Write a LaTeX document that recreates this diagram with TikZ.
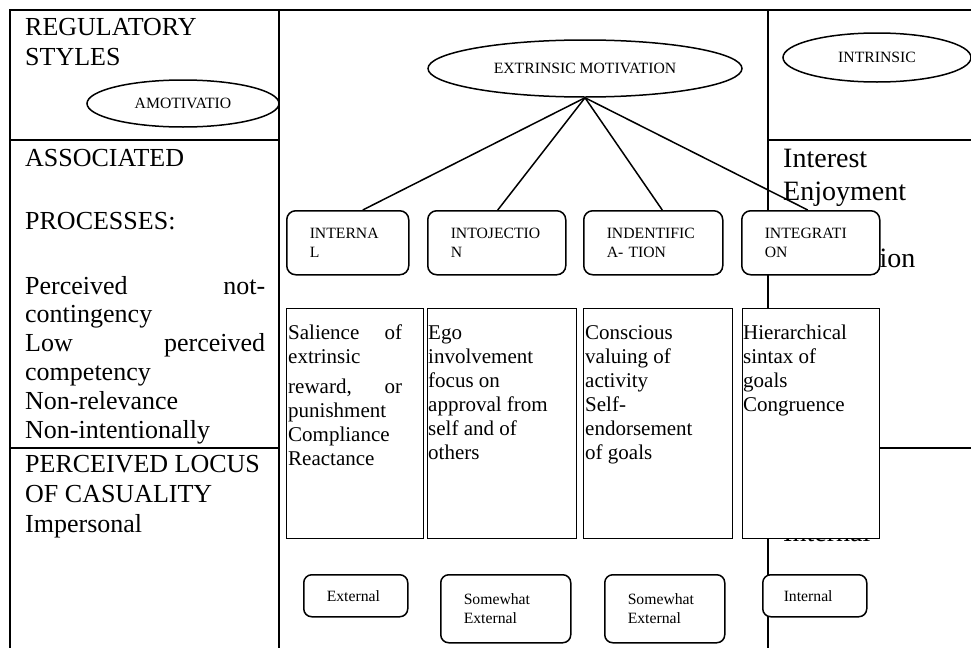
\documentclass[tikz,border=0pt]{standalone}
\usepackage{fontspec}
\setmainfont{Liberation Serif}
\usetikzlibrary{shapes.geometric}
\newcommand\stk[2]{\vtop{\baselineskip=#1\lineskiplimit=-1000pt\lineskip=0pt\relax #2}}
\newcommand\jus[3]{\hbox to #1{#2\hfill #3}}
\tikzset{
  tbl/.style={line width=1.8pt},
  conn/.style={line width=1.5pt},
  bigl/.style={font=\fontsize{26}{30}\selectfont, inner sep=0pt, anchor=base west},
  bigr/.style={font=\fontsize{28}{33}\selectfont, inner sep=0pt, anchor=base west},
  midt/.style={font=\fontsize{21}{24}\selectfont, inner sep=0pt, anchor=base west},
  oval/.style={ellipse, draw, line width=1.5pt, fill=white, inner sep=0pt, font=\fontsize{15.7}{19}\selectfont},
  rbox/.style={draw, rounded corners=9pt, line width=1.5pt, fill=white, align=left, inner xsep=23pt, inner ysep=2pt, font=\fontsize{15.7}{19}\selectfont, anchor=north west},
  tallbox/.style={draw, line width=1.4pt, fill=white, inner sep=0pt, anchor=north west}
}
\begin{document}
\begin{tikzpicture}[x=1pt,y=-1pt]
\useasboundingbox (0,0) rectangle (971,648);
% table grid
\draw[tbl] (971,10) -- (10,10) -- (10,648);
\draw[tbl] (279,10) -- (279,648);
\draw[tbl] (768,10) -- (768,648);
\draw[tbl] (10,140) -- (279,140);
\draw[tbl] (768,140) -- (971,140);
\draw[tbl] (10,448) -- (279,448);
\draw[tbl] (768,448) -- (971,448);
% left column text
\node[bigl] (reg) at (25,35) {\stk{30pt}{\hbox{REGULATORY}\hbox{STYLES}}};
\node[bigl] (assoc) at (25,166) {ASSOCIATED};
\node[bigl] (proc) at (25,229) {PROCESSES:};
\node[bigl] (plist) at (25,294) {\stk{28.8pt}{\jus{240pt}{Perceived}{not-}\hbox{contingency}\jus{240pt}{Low}{perceived}\hbox{competency}\hbox{Non-relevance}\hbox{Non-intentionally}}};
\node[bigl] (locus) at (25,472) {\stk{30pt}{\hbox{PERCEIVED LOCUS}\hbox{OF CASUALITY}\hbox{Impersonal}}};
% right column text
\node[bigr] (intr) at (783,167) {\stk{33pt}{\hbox{Interest}\hbox{Enjoyment}}};
\node[bigr] (satis) at (783,267) {Satisfaction};
\node[bigr] (intl) at (783,541) {Internal};
% ellipses
\node[oval, minimum width=192pt, minimum height=47pt] (amo) at (183,103.5) {AMOTIVATIO};
\node[oval, minimum width=314pt, minimum height=57pt] (ext) at (585,68.5) {EXTRINSIC MOTIVATION};
\node[oval, minimum width=188pt, minimum height=49pt] (intrin) at (877,57.5) {INTRINSIC};
% regulation boxes
\node[rbox, text width=76pt, minimum height=64pt] (r1) at (286,210) {INTERNA\\L};
\node[rbox, text width=92pt, minimum height=64pt] (r2) at (427,210) {INTOJECTIO\\N};
\node[rbox, text width=93pt, minimum height=64pt] (r3) at (583,210) {INDENTIFIC\\A- TION};
\node[rbox, text width=92pt, minimum height=64pt] (r4) at (741,210) {INTEGRATI\\ON};
% connectors
\draw[conn] (ext.south) -- ([xshift=15pt]r1.north);
\draw[conn] (ext.south) -- ([xshift=1pt]r2.north);
\draw[conn] (ext.south) -- ([xshift=9pt]r3.north);
\draw[conn] (ext.south) -- ([xshift=-3pt]r4.north);
% process boxes
\node[tallbox, minimum width=137pt, minimum height=230pt] (t1) at (286,308) {};
\node[tallbox, minimum width=149pt, minimum height=230pt] (t2) at (427,308) {};
\node[tallbox, minimum width=149pt, minimum height=230pt] (t3) at (583,308) {};
\node[tallbox, minimum width=137pt, minimum height=230pt] (t4) at (742,308) {};
\node[midt] (t1x) at (288,339) {\stk{24pt}{\jus{114pt}{Salience}{of}\hbox{extrinsic}\kern6pt\jus{114pt}{reward,}{or}\hbox{punishment}\hbox{Compliance}\hbox{Reactance}}};
\node[midt] (t2x) at (428,339) {\stk{24pt}{\hbox{Ego}\hbox{involvement}\hbox{focus on}\hbox{approval from}\hbox{self and of}\hbox{others}}};
\node[midt] (t3x) at (585,339) {\stk{24pt}{\hbox{Conscious}\hbox{valuing of}\hbox{activity}\hbox{Self-}\hbox{endorsement}\hbox{of goals}}};
\node[midt] (t4x) at (743,339) {\stk{24pt}{\hbox{Hierarchical}\hbox{sintax of}\hbox{goals}\hbox{Congruence}}};
% locus boxes
\node[rbox, rounded corners=8pt, text width=58pt, minimum height=42pt] (e1) at (303,574) {External};
\node[rbox, rounded corners=8pt, text width=84pt, minimum height=68pt] (e2) at (440,574) {Somewhat\\External};
\node[rbox, rounded corners=8pt, text width=74pt, minimum height=68pt] (e3) at (604,574) {Somewhat\\External};
\node[rbox, rounded corners=8pt, inner xsep=21pt, text width=62pt, minimum height=42pt] (e4) at (762,574) {Internal};
\end{tikzpicture}
\end{document}
